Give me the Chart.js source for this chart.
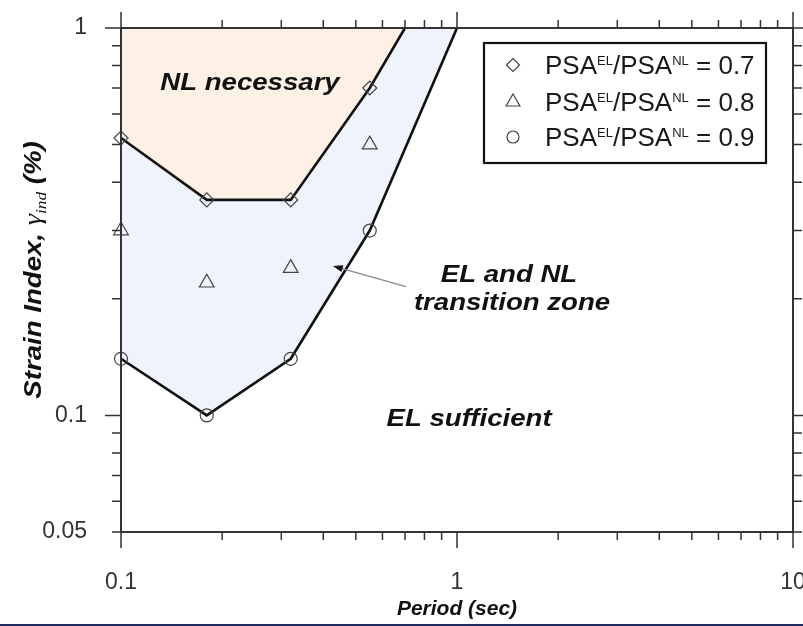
<!DOCTYPE html>
<html>
<head>
<meta charset="utf-8">
<script src="https://cdn.jsdelivr.net/npm/chart.js@4.4.1/dist/chart.umd.min.js"></script>
<style>
html,body{margin:0;padding:0;background:#fff;}
#wrap{width:803px;height:626px;position:relative;}
canvas{display:block;}
</style>
</head>
<body>
<div id="wrap"><canvas id="c" width="803" height="626"></canvas></div>
<script>
// ---- data ----
const periods = [0.1, 0.18, 0.32, 0.55];
const ratio07 = [0.52, 0.36, 0.36, 0.70];
const ratio08 = [0.30, 0.22, 0.24, 0.50];
const ratio09 = [0.14, 0.10, 0.14, 0.30];
const nlBoundaryPeriod = [0.1, 0.18, 0.32, 0.55, 0.70];
const nlBoundaryStrain = [0.52, 0.36, 0.36, 0.70, 1.0];
const elBoundaryPeriod = [0.1, 0.18, 0.32, 0.55, 1.0];
const elBoundaryStrain = [0.14, 0.10, 0.14, 0.30, 1.0];
const seriesValues = ['0.7', '0.8', '0.9'];
const xTickValues = [0.1,0.2,0.3,0.4,0.5,0.6,0.7,0.8,0.9,1,2,3,4,5,6,7,8,9,10];
const xTickLabels = ['0.1', '1', '10'];
const yTickValues = [0.05,0.06,0.07,0.08,0.09,0.1,0.2,0.3,0.4,0.5,0.6,0.7,0.8,0.9,1];
const yTickLabels = ['0.05', '0.1', '1'];
const xTitle = 'Period (sec)';
const regionLabels = ['NL necessary', 'EL and NL', 'transition zone', 'EL sufficient'];

// ---- layout / style (not data) ----
const labelAnchors = [
  {x: 0.242, y: 0.692},
  {x: 1.428, y: 0.2215},
  {x: 1.458, y: 0.1866},
  {x: 1.086, y: 0.0937}
];
const arrowTail = {x: 0.705, y: 0.215};
const arrowHead = {x: 0.427, y: 0.243};

const SANS = '"Liberation Sans", Arial, Helvetica, sans-serif';
const SERIF = '"Liberation Serif", "Times New Roman", serif';
const markerStyles = [
  {pointStyle: 'rectRot', radius: 7},
  {pointStyle: 'triangle', radius: 8.5},
  {pointStyle: 'circle', radius: 6.5}
];

function pts(xs, ys) { return xs.map((x, i) => ({x: x, y: ys[i]})); }
function isPow10(v) { const l = Math.log10(v); return Math.abs(l - Math.round(l)) < 1e-6; }
function labelFor(v, list) {
  const m = list.find(s => Math.abs(parseFloat(s) - v) < 1e-9);
  return m === undefined ? '' : m;
}

const markerDatasets = [ratio07, ratio08, ratio09].map((vals, i) => ({
  type: 'line',
  label: 'PSA ratio = ' + seriesValues[i],
  data: pts(periods, vals),
  showLine: false,
  pointStyle: markerStyles[i].pointStyle,
  pointRadius: markerStyles[i].radius,
  pointHoverRadius: markerStyles[i].radius,
  pointBorderColor: '#444',
  pointBackgroundColor: 'rgba(0,0,0,0)',
  pointBorderWidth: 1.2,
  borderColor: '#444',
  clip: false,
  order: 0
}));

const decorPlugin = {
  id: 'decor',
  afterDatasetsDraw(chart) {
    const ctx = chart.ctx;
    const xs = chart.scales.x, ys = chart.scales.y;
    const ca = chart.chartArea;
    ctx.save();
    // tick marks on all four sides
    ctx.strokeStyle = '#333';
    ctx.lineWidth = 1.5;
    ctx.beginPath();
    xs.ticks.forEach(t => {
      const px = xs.getPixelForValue(t.value);
      const L = isPow10(t.value) ? 16 : 8;
      ctx.moveTo(px, ca.bottom); ctx.lineTo(px, ca.bottom + L);
      ctx.moveTo(px, ca.top); ctx.lineTo(px, ca.top - L);
    });
    ys.ticks.forEach(t => {
      const py = ys.getPixelForValue(t.value);
      const L = isPow10(t.value) ? 16 : 9;
      ctx.moveTo(ca.left - L, py); ctx.lineTo(ca.left, py);
      ctx.moveTo(ca.right, py); ctx.lineTo(ca.right + L, py);
    });
    ctx.stroke();
    // frame
    ctx.lineWidth = 2;
    ctx.strokeRect(ca.left, ca.top, ca.right - ca.left, ca.bottom - ca.top);

    // region labels
    ctx.fillStyle = '#111';
    regionLabels.forEach((txt, i) => {
      const px = xs.getPixelForValue(labelAnchors[i].x);
      const py = ys.getPixelForValue(labelAnchors[i].y);
      ctx.save();
      ctx.translate(px, py);
      ctx.scale(1.15, 1);
      ctx.font = 'italic bold 24px ' + SANS;
      ctx.textAlign = 'center';
      ctx.textBaseline = 'alphabetic';
      ctx.fillText(txt, 0, 0);
      ctx.restore();
    });

    // arrow
    const tx = xs.getPixelForValue(arrowTail.x), ty = ys.getPixelForValue(arrowTail.y);
    const hx = xs.getPixelForValue(arrowHead.x), hy = ys.getPixelForValue(arrowHead.y);
    const ang = Math.atan2(hy - ty, hx - tx);
    ctx.strokeStyle = '#8a8a8a';
    ctx.lineWidth = 1.3;
    ctx.beginPath();
    ctx.moveTo(tx, ty);
    ctx.lineTo(hx - 6 * Math.cos(ang), hy - 6 * Math.sin(ang));
    ctx.stroke();
    ctx.fillStyle = '#111';
    ctx.beginPath();
    ctx.moveTo(hx, hy);
    ctx.lineTo(hx - 10 * Math.cos(ang) + 3.5 * Math.sin(ang), hy - 10 * Math.sin(ang) - 3.5 * Math.cos(ang));
    ctx.lineTo(hx - 10 * Math.cos(ang) - 3.5 * Math.sin(ang), hy - 10 * Math.sin(ang) + 3.5 * Math.cos(ang));
    ctx.closePath();
    ctx.fill();

    // legend
    const lx = ca.right - 309, ly = ca.top + 15, lw = 282, lh = 120;
    ctx.fillStyle = '#fff';
    ctx.fillRect(lx, ly, lw, lh);
    ctx.strokeStyle = '#111';
    ctx.lineWidth = 2.2;
    ctx.strokeRect(lx, ly, lw, lh);
    const rowY = [22, 59, 94];
    markerDatasets.forEach((ds, i) => {
      const my = ly + rowY[i];
      ctx.save();
      ctx.strokeStyle = '#444';
      ctx.fillStyle = 'rgba(0,0,0,0)';
      ctx.lineWidth = 1.2;
      Chart.helpers.drawPoint(ctx, {pointStyle: ds.pointStyle, radius: ds.pointRadius - 0.5, rotation: 0, borderWidth: 1.2}, lx + 29, my);
      ctx.restore();
      // text with superscripts
      let x = lx + 61;
      const base = my + 9;
      const parts = [
        ['PSA', 26, 0], ['EL', 13, -9], ['/PSA', 26, 0], ['NL', 13, -9], [' = ' + seriesValues[i], 26, 0]
      ];
      ctx.fillStyle = '#1a1a1a';
      ctx.textAlign = 'left';
      ctx.textBaseline = 'alphabetic';
      parts.forEach(p => {
        ctx.font = p[1] + 'px ' + SANS;
        ctx.fillText(p[0], x, base + p[2]);
        x += ctx.measureText(p[0]).width;
      });
    });

    // x title
    ctx.fillStyle = '#111';
    ctx.font = 'italic bold 21px ' + SANS;
    ctx.textAlign = 'center';
    ctx.textBaseline = 'alphabetic';
    ctx.fillText(xTitle, (ca.left + ca.right) / 2, 615);

    // y title (rotated, with gamma_ind)
    const yParts = [
      ['Strain Index, ', 'italic bold 24px ' + SANS, 0],
      ['\u03B3', 'italic 25px ' + SERIF, 0],
      ['ind', 'italic 15px ' + SERIF, 5],
      [' (%)', 'italic bold 24px ' + SANS, 0]
    ];
    let total = 0;
    yParts.forEach(p => { ctx.font = p[1]; total += ctx.measureText(p[0]).width; });
    ctx.save();
    ctx.translate(41, 270);
    ctx.rotate(-Math.PI / 2);
    ctx.scale(1.15, 1);
    ctx.textAlign = 'left';
    let cx = -total / 2;
    yParts.forEach(p => {
      ctx.font = p[1];
      ctx.fillText(p[0], cx, p[2]);
      cx += ctx.measureText(p[0]).width;
    });
    ctx.restore();

    // bottom border strip
    ctx.fillStyle = '#1f2a5e';
    ctx.fillRect(0, 624, chart.width, 2);
    ctx.restore();
  }
};

new Chart(document.getElementById('c'), {
  type: 'line',
  data: {
    datasets: [
      {
        type: 'line', label: 'NL boundary',
        data: pts(nlBoundaryPeriod, nlBoundaryStrain),
        borderColor: '#111', borderWidth: 2.6, pointRadius: 0, tension: 0,
        fill: 'end', backgroundColor: '#fdf0e5', order: 1
      },
      {
        type: 'line', label: 'EL boundary',
        data: pts(elBoundaryPeriod, elBoundaryStrain),
        borderColor: '#111', borderWidth: 2.6, pointRadius: 0, tension: 0,
        fill: 'end', backgroundColor: '#eff3fc', order: 2
      },
      ...markerDatasets
    ]
  },
  options: {
    responsive: false,
    animation: false,
    events: [],
    layout: {padding: {top: 28, right: 10, bottom: 0, left: 0}},
    plugins: {legend: {display: false}, tooltip: {enabled: false}, title: {display: false}},
    scales: {
      x: {
        type: 'logarithmic', position: 'bottom', min: 0.1, max: 10,
        afterBuildTicks: s => { s.ticks = xTickValues.map(v => ({value: v, major: isPow10(v)})); },
        afterFit: s => { s.height = 94; s.paddingLeft = 0; s.paddingRight = 0; },
        grid: {display: true, drawOnChartArea: false, drawTicks: true, tickLength: 16, color: 'rgba(0,0,0,0)', tickColor: 'rgba(0,0,0,0)'},
        border: {display: false},
        ticks: {
          autoSkip: false, maxRotation: 0, minRotation: 0, padding: 21, color: '#333',
          font: {family: SANS, size: 23},
          callback: v => labelFor(v, xTickLabels)
        },
        title: {display: false}
      },
      y: {
        type: 'logarithmic', position: 'left', min: 0.05, max: 1,
        afterBuildTicks: s => { s.ticks = yTickValues.map(v => ({value: v, major: isPow10(v)})); },
        afterFit: s => { s.width = 121; s.paddingTop = 0; s.paddingBottom = 0; },
        grid: {display: true, drawOnChartArea: false, drawTicks: true, tickLength: 16, color: 'rgba(0,0,0,0)', tickColor: 'rgba(0,0,0,0)'},
        border: {display: false},
        ticks: {
          autoSkip: false, padding: 18, color: '#333',
          font: {family: SANS, size: 23},
          callback: v => labelFor(v, yTickLabels)
        },
        title: {display: false}
      }
    }
  },
  plugins: [decorPlugin]
});
</script>
</body>
</html>
